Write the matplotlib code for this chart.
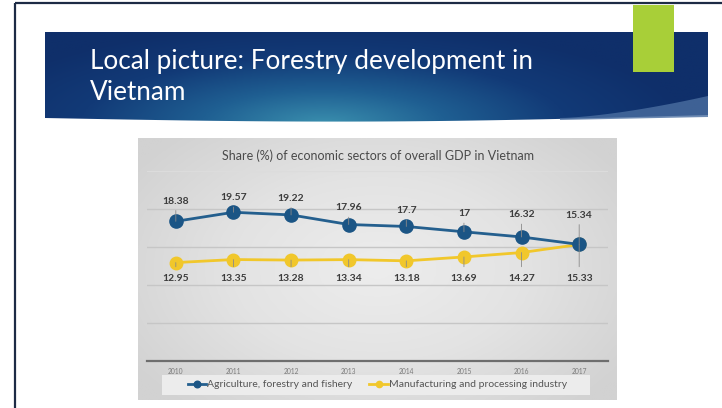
import numpy as np
import matplotlib
matplotlib.use("Agg")
import matplotlib.pyplot as plt
from matplotlib.patches import Rectangle, Polygon
from matplotlib.colors import LinearSegmentedColormap

W, H = 722, 408

years = ["2010", "2011", "2012", "2013", "2014", "2015", "2016", "2017"]
agri = [18.38, 19.57, 19.22, 17.96, 17.7, 17, 16.32, 15.34]
manu = [12.95, 13.35, 13.28, 13.34, 13.18, 13.69, 14.27, 15.33]
agri_labels = ["18.38", "19.57", "19.22", "17.96", "17.7", "17", "16.32", "15.34"]
manu_labels = ["12.95", "13.35", "13.28", "13.34", "13.18", "13.69", "14.27", "15.33"]
series_names = ["Agriculture, forestry and fishery",
                "Manufacturing and processing industry"]
chart_title = "Share (%) of economic sectors of overall GDP in Vietnam"
slide_title = "Local picture: Forestry development in\nVietnam"

BLUE = "#1b5585"
BLUE_LINE = "#245f8e"
YEL = "#f1c72b"
INK = "#3c3c3c"
FONT = ["Lato", "DejaVu Sans"]

fig = plt.figure(figsize=(W / 100, H / 100), dpi=100)
fig.patch.set_facecolor("white")

# background axes in pixel coords
bg = fig.add_axes([0, 0, 1, 1])
bg.set_xlim(0, W); bg.set_ylim(H, 0); bg.axis("off")

# slide frame
bg.plot([15, W], [3, 3], color="#1d2b45", lw=1.6, solid_capstyle="butt")
bg.plot([15, 15], [3, H], color="#1d2b45", lw=1.6, solid_capstyle="butt")

# banner with gradient
xs = np.linspace(45, 708, 60)
bottom = 118 + 5 * np.sin(np.linspace(0, np.pi, 60)) - np.linspace(0, 3, 60)
verts = [(45, 32), (708, 32)] + list(zip(xs[::-1], bottom[::-1]))
banner = Polygon(verts, closed=True, facecolor="none", edgecolor="none")
bg.add_patch(banner)
gx, gy = np.meshgrid(np.linspace(0, 1, 300), np.linspace(0, 1, 60))
r = np.sqrt(((gx - 0.42) / 0.55) ** 2 + ((gy - 1.0) / 1.1) ** 2)
cmap = LinearSegmentedColormap.from_list("b", ["#3a8fae", "#1f5f92", "#123a77", "#0f2f6a"])
im = bg.imshow(np.clip(r, 0, 1), cmap=cmap, extent=[45, 708, 125, 32],
               aspect="auto", interpolation="bilinear", zorder=1)
im.set_clip_path(banner)
# lighter wedge at lower right
wx = np.linspace(560, 708, 30)
wy = 118 - 22 * ((wx - 560) / 148) ** 1.5
wedge = list(zip(wx, wy)) + [(708, 117), (560, 120)]
bg.add_patch(Polygon(wedge, closed=True, facecolor="#4a6ea0", edgecolor="none",
                     alpha=0.8, zorder=2))

# green tab
bg.add_patch(Rectangle((633, 5), 41, 67, facecolor="#a8cf38", edgecolor="none", zorder=3))

bg.text(90, 77, slide_title, color="white", fontsize=18.8, family=FONT,
        ha="left", va="center", linespacing=1.25, zorder=4)

# chart box with soft gradient
cx0, cx1, cy0, cy1 = 138, 617, 138, 400
ggx, ggy = np.meshgrid(np.linspace(-1, 1, 200), np.linspace(-1, 1, 120))
rr = np.sqrt(ggx ** 2 * 0.8 + ggy ** 2 * 0.6)
gcmap = LinearSegmentedColormap.from_list("g", ["#ededed", "#e3e3e3", "#d2d2d2"])
bg.imshow(rr, cmap=gcmap, extent=[cx0, cx1, cy1, cy0], aspect="auto",
          interpolation="bilinear", zorder=1, vmin=0, vmax=1.1)
bg.set_xlim(0, W); bg.set_ylim(H, 0)

# legend band
bg.add_patch(Rectangle((162, 375), 428, 20, facecolor="#ececec", edgecolor="none", zorder=2))

bg.text(378, 156, chart_title, color="#4a4a4a", fontsize=9, family=FONT,
        ha="center", va="center", zorder=4)

# plot axes
ax = fig.add_axes([147 / W, 1 - 361 / H, 461 / W, 190 / H])
ax.patch.set_alpha(0)
x = np.arange(len(years))
ax.set_xlim(-0.5, len(years) - 0.5)
ax.set_ylim(0, 25)
for v in [5, 10, 15, 20]:
    ax.axhline(v, color="#c6c6c6", lw=1.0, zorder=0)
ax.axhline(25, color="#dcdcdc", lw=0.8, zorder=0)
for s in ax.spines.values():
    s.set_visible(False)
ax.axhline(0, color="#6e6e6e", lw=1.6, zorder=1, clip_on=False)
ax.set_yticks([])
ax.set_xticks(x)
ax.set_xticklabels(years, fontsize=4.8, color="#7a7a7a", family=FONT)
ax.tick_params(axis="x", length=0, pad=5)

ax.plot(x, agri, color=BLUE_LINE, lw=2, marker="o", ms=9.5,
        mfc=BLUE, mec=BLUE, zorder=4, label=series_names[0])
ax.plot(x, manu, color=YEL, lw=2, marker="o", ms=9, mfc=YEL, mec=YEL,
        zorder=3, label=series_names[1])

agri_off = [14.5, 10.5, 12, 12, 11.5, 13, 16, 21]
for xi, v, lab, off in zip(x, agri, agri_labels, agri_off):
    ax.annotate(lab, (xi, v), xytext=(0, off), textcoords="offset points",
                ha="center", va="center", fontsize=7.5, fontweight="bold",
                color=INK, family=FONT,
                arrowprops=dict(arrowstyle="-", color="#8a8a8a", lw=0.6,
                                shrinkA=1.5, shrinkB=0), zorder=5)
for xi, v, lab in zip(x, manu, manu_labels):
    off = (v - 10.9) * 190 / 25 * 0.72
    ax.annotate(lab, (xi, v), xytext=(0, -off), textcoords="offset points",
                ha="center", va="center", fontsize=7.5, fontweight="bold",
                color=INK, family=FONT,
                arrowprops=dict(arrowstyle="-", color="#8a8a8a", lw=0.6,
                                shrinkA=3, shrinkB=0), zorder=5)

leg = ax.legend(loc="center", bbox_to_anchor=(0.5, -0.125), ncol=2,
                frameon=False, handlelength=1.8,
                columnspacing=1.6, handletextpad=0.1, markerscale=0.5,
                prop={"family": FONT, "size": 7.5})
for t in leg.get_texts():
    t.set_color("#555555")

fig.savefig("out.png", dpi=100, facecolor="white")
